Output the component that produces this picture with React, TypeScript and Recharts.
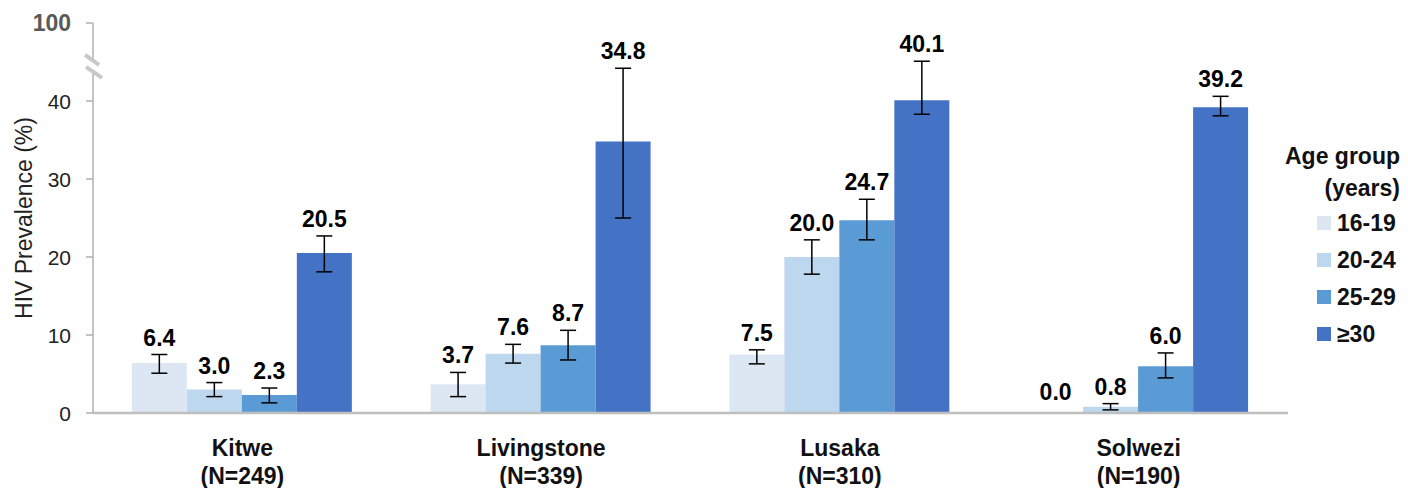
import React from 'react';
import { BarChart, Bar, XAxis, YAxis, ErrorBar, LabelList } from 'recharts';

const CITIES = ['Kitwe', 'Livingstone', 'Lusaka', 'Solwezi'];
const SAMPLE_SIZES = ['N=249', 'N=339', 'N=310', 'N=190'];
const AGE_GROUPS = ['16-19', '20-24', '25-29', '≥30'];
const COLORS = ['#dde7f4', '#bdd7ee', '#5b9bd5', '#4472c4'];

const PREV_16_19 = [6.4, 3.7, 7.5, 0.0];
const PREV_20_24 = [3.0, 7.6, 20.0, 0.8];
const PREV_25_29 = [2.3, 8.7, 24.7, 6.0];
const PREV_30_UP = [20.5, 34.8, 40.1, 39.2];

const CI_LOW_16_19 = [5.1, 2.1, 6.3, 0.0];
const CI_HIGH_16_19 = [7.5, 5.2, 8.1, 0.0];
const CI_LOW_20_24 = [2.1, 6.4, 17.8, 0.4];
const CI_HIGH_20_24 = [3.9, 8.8, 22.2, 1.2];
const CI_LOW_25_29 = [1.3, 6.8, 22.2, 4.5];
const CI_HIGH_25_29 = [3.2, 10.6, 27.4, 7.7];
const CI_LOW_30_UP = [18.1, 25.0, 38.3, 38.1];
const CI_HIGH_30_UP = [22.7, 44.2, 45.1, 40.6];

const Y_TICKS = [0, 10, 20, 30, 40, 50];
const Y_TICK_LABELS = ['0', '10', '20', '30', '40', '100'];
const BREAK_AT = 44.5;

const FONT = '"Liberation Sans", Arial, Helvetica, sans-serif';

const SERIES = [
  { vals: PREV_16_19, lo: CI_LOW_16_19, hi: CI_HIGH_16_19 },
  { vals: PREV_20_24, lo: CI_LOW_20_24, hi: CI_HIGH_20_24 },
  { vals: PREV_25_29, lo: CI_LOW_25_29, hi: CI_HIGH_25_29 },
  { vals: PREV_30_UP, lo: CI_LOW_30_UP, hi: CI_HIGH_30_UP },
];

const data = CITIES.map((city, i) => {
  const row: any = { city };
  SERIES.forEach((s, k) => {
    const v = s.vals[i];
    row['v' + k] = v;
    row['e' + k] = [+(v - s.lo[i]).toFixed(2), +(s.hi[i] - v).toFixed(2)];
  });
  return row;
});

const YTick = (props: any) => {
  const { x, y, payload } = props;
  const v = payload.value;
  if (v === BREAK_AT) {
    return (
      <g>
        <polygon points={`${x - 8},${y - 11} ${x + 6},${y - 1} ${x + 9},${y + 12} ${x - 7},${y + 1}`} fill="#ffffff" />
        <line x1={x - 8} y1={y - 11} x2={x + 6} y2={y - 1} stroke="#c8c8c8" strokeWidth={4} />
        <line x1={x - 7} y1={y + 1} x2={x + 9} y2={y + 12} stroke="#c8c8c8" strokeWidth={4} />
      </g>
    );
  }
  const idx = Y_TICKS.indexOf(v);
  const top = v === 50;
  return (
    <g>
      <line x1={x - 7} y1={y} x2={x} y2={y} stroke="#b0b0b0" strokeWidth={1.5} />
      <text
        x={x - 22}
        y={y}
        dy="0.36em"
        textAnchor="end"
        fontFamily={FONT}
        fontSize={top ? 23 : 21}
        fontWeight={top ? 700 : 400}
        fill={top ? '#595959' : '#222222'}
      >
        {Y_TICK_LABELS[idx]}
      </text>
    </g>
  );
};

const XTick = (props: any) => {
  const { x, y, payload } = props;
  const i = CITIES.indexOf(payload.value);
  return (
    <g>
      <text x={x} y={y + 43} textAnchor="middle" fontFamily={FONT} fontSize={23} fontWeight={700} fill="#111">
        {payload.value}
      </text>
      <text x={x} y={y + 71} textAnchor="middle" fontFamily={FONT} fontSize={23} fontWeight={700} fill="#111">
        ({SAMPLE_SIZES[i]})
      </text>
    </g>
  );
};

const valueText = (cx: number, cy: number, v: number, key: string) => (
  <text
    key={key}
    x={cx}
    y={cy}
    textAnchor="middle"
    fontFamily={FONT}
    fontSize={23}
    fontWeight={700}
    fill="#000"
  >
    {v.toFixed(1)}
  </text>
);

const makeLabel = (k: number) => (props: any) => {
  const { x, y, width, height, value, index } = props;
  const v = Number(value);
  const errHi = data[index]['e' + k][1];
  const px = v > 0 ? Number(height) / v : 0;
  const ty = v > 0 ? Number(y) - errHi * px - 9 : Number(y) - 13;
  const items = [valueText(Number(x) + Number(width) / 2, ty, v, 'own')];
  // a zero-height neighbour bar on the left gets no label of its own; draw it here
  if (k > 0 && data[index]['v' + (k - 1)] === 0 && v > 0) {
    const baseY = Number(y) + Number(height);
    items.push(valueText(Number(x) - Number(width) / 2, baseY - 13, 0, 'zero'));
  }
  return <g>{items}</g>;
};

const YLabel = (props: any) => {
  const vb = props.viewBox || { x: 0, y: 15, width: 85, height: 390 };
  const cx = vb.x + 16;
  const cy = vb.y + vb.height / 2;
  return (
    <text
      x={cx}
      y={cy}
      transform={`rotate(-90 ${cx} ${cy})`}
      textAnchor="middle"
      dominantBaseline="central"
      fontFamily={FONT}
      fontSize={23}
      fill="#222"
    >
      HIV Prevalence (%)
    </text>
  );
};

const LEGEND_ROWS_Y = [223, 260, 297, 334];

export default function App() {
  return (
    <div style={{ position: 'relative', width: 1400, height: 480, fontFamily: FONT }}>
      <BarChart
        width={1400}
        height={480}
        data={data}
        margin={{ top: 15, right: 120, left: 0, bottom: 15 }}
        barCategoryGap="13%"
        barGap={0}
      >
        <XAxis
          dataKey="city"
          height={60}
          tickLine={false}
          tickSize={0}
          tickMargin={0}
          axisLine={{ stroke: '#bfbfbf', strokeWidth: 2.5 }}
          tick={<XTick />}
          interval={0}
        />
        <YAxis
          width={85}
          domain={[0, 50]}
          ticks={[...Y_TICKS.slice(0, 5), BREAK_AT, 50]}
          interval={0}
          tickLine={false}
          tickSize={0}
          tickMargin={0}
          axisLine={{ stroke: '#b0b0b0', strokeWidth: 1.5 }}
          tick={<YTick />}
          allowDataOverflow
          label={{ content: <YLabel /> } as any}
        />
        {AGE_GROUPS.map((g, k) => (
          <Bar key={g} dataKey={'v' + k} name={g} fill={COLORS[k]} isAnimationActive={false}>
            <ErrorBar dataKey={'e' + k} width={8} stroke="#000" strokeWidth={1.5} direction="y" />
            <LabelList dataKey={'v' + k} content={makeLabel(k)} />
          </Bar>
        ))}
      </BarChart>
      <div style={{ position: 'absolute', left: 1250, top: 0, width: 142, height: 480, pointerEvents: 'none' }}>
        <div
          style={{
            position: 'absolute',
            right: 0,
            top: 132,
            fontSize: 23,
            fontWeight: 700,
            color: '#111',
            textAlign: 'right',
            lineHeight: '32px',
            whiteSpace: 'nowrap',
          }}
        >
          Age group
          <br />
          (years)
        </div>
        {AGE_GROUPS.map((g, k) => (
          <div
            key={g}
            style={{
              position: 'absolute',
              left: 59,
              top: LEGEND_ROWS_Y[k] - 8 - 13,
              height: 26,
              display: 'flex',
              alignItems: 'center',
              fontSize: 23,
              fontWeight: 700,
              color: '#111',
              whiteSpace: 'nowrap',
            }}
          >
            <span style={{ display: 'inline-block', width: 14, height: 14, background: COLORS[k], marginRight: 6 }} />
            {g}
          </div>
        ))}
      </div>
    </div>
  );
}
